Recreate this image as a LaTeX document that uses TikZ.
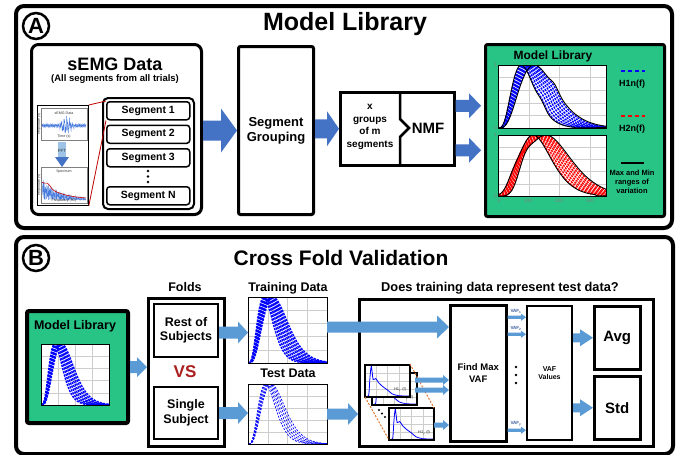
\documentclass[tikz,border=0pt]{standalone}
\usepackage{fontspec}
\setmainfont{Liberation Sans}
\usetikzlibrary{calc}
\definecolor{arrA}{RGB}{68,114,196}
\definecolor{arrB}{RGB}{91,155,213}
\definecolor{libgreen}{RGB}{40,196,134}
\definecolor{vsred}{RGB}{170,30,30}
\definecolor{orng}{RGB}{225,120,50}
\definecolor{gridc}{RGB}{205,205,205}
\newcommand\fs[2]{\fontsize{#1}{#2}\selectfont}
% horizontal block arrow: start, end, body half, head half, head length, colour
\newcommand\fatarrow[6]{\fill[#6] let \p1=#1, \p2=#2 in
  (\x1,{\y1+#3}) -- ({\x2-#5},{\y1+#3}) -- ({\x2-#5},{\y1+#4}) -- (\x2,\y1)
  -- ({\x2-#5},{\y1-#4}) -- ({\x2-#5},{\y1-#3}) -- (\x1,{\y1-#3}) -- cycle;}
\newcommand\pbg[2]{\fill[white] (0,0) rectangle (1,1);
  \draw[gridc, line width=0.5pt, xstep=#1, ystep=#2] (0,0) grid (1,1);}
\newcommand\pfr[1]{\draw[line width=#1] (0,0) rectangle (1,1);}
\newcommand\bandc[3]{\foreach \pp in {#1} {\draw[#3, domain=0.01:1, samples=60] plot (\x,{#2});}}
\tikzset{
  panel/.style={draw, line width=4pt, rounded corners=8pt, inner sep=0pt, anchor=north west},
  box/.style={draw, inner sep=0pt, anchor=north west, align=center, font=\bfseries},
  lbl/.style={inner sep=0pt, align=center, font=\bfseries},
  plotn/.style={inner sep=0pt, outer sep=0pt, anchor=north west},
  tick/.style={inner sep=1pt, text=gray, font=\fs{5}{5}},
  tiny/.style={inner sep=0pt, font=\fs{3.6}{4}, text=black!80},
  seg/.style={box, line width=1.5pt, rounded corners=3pt, minimum width=83pt, minimum height=18pt, font=\bfseries\fs{10.5}{10.5}},
  bdash/.style={blue, line width=1.4pt, dash pattern=on 2.2pt off 1.1pt},
  rdash/.style={red, line width=1.4pt, dash pattern=on 2.2pt off 1.1pt},
  tdash/.style={blue, line width=0.7pt, dash pattern=on 2pt off 1.4pt},
}
\begin{document}
\begin{tikzpicture}[x=1pt,y=-1pt]
\useasboundingbox (0,0) rectangle (680,455);
\fill[white] (0,0) rectangle (680,455);

% ================= Panel A =================
\node[panel, minimum width=656pt, minimum height=222pt] (panA) at (14,4) {};
\node[circle, draw, line width=2.5pt, minimum size=26pt, inner sep=0pt, font=\bfseries\fs{22}{22}] (circA) at (36,26) {A};
\node[lbl, font=\bfseries\fs{25}{25}] (titA) at (345,24) {Model Library};

% sEMG data box
\node[box, line width=3pt, rounded corners=7pt, minimum width=170pt, minimum height=170pt] (semg) at (30,43) {};
\node[lbl, font=\bfseries\fs{18}{18}] (semgT) at (115,64) {sEMG Data};
\node[lbl, font=\bfseries\fs{9.5}{9.5}] (semgS) at (115,79) {(All segments from all trials)};

% mini figure
\node[draw, line width=0.8pt, fill=white, anchor=north west, minimum width=51pt, minimum height=100pt, inner sep=0pt] (fig) at (37,105) {};
\node[plotn, draw=gray, line width=0.4pt, minimum width=46pt, minimum height=32pt] (sig) at (41,108) {};
\node[plotn, draw=gray, line width=0.4pt, minimum width=46pt, minimum height=36pt] (spec) at (41,167) {};
\begin{scope}[shift={(sig.south west)}, x=46pt, y=32pt]
  \clip (0,0) rectangle (1,1);
  \draw[arrB!80!blue, line width=0.4pt, domain=0.02:0.98, samples=160] plot (\x,{0.45+0.05*sin(13000*\x)+0.33*sin(15000*\x)*cos(9100*\x)*exp(-((\x-0.55)/0.13)^2)});
\end{scope}
\node[tiny] (sigT) at (64,113) {sEMG Data};
\node[tiny] (sigX) at (64,136.5) {Time (s)};
\node[tiny, rotate=90] (sigY) at (39,124) {Amplitude (V)};
\fill[arrB!60] (58,142) rectangle (66,157);
\fill[arrA] (55,157) -- (69,157) -- (62,167) -- cycle;
\node[tiny, font=\fs{4.5}{5}] (fft) at (62,151) {FFT};
\begin{scope}[shift={(spec.south west)}, x=46pt, y=36pt]
  \clip (0,0) rectangle (1,1);
  \draw[arrB!80!blue, line width=0.4pt, domain=0.02:0.98, samples=140] plot (\x,{0.08+0.75*exp(-2.6*\x)*abs(sin(12000*\x)*cos(7000*\x))});
  \draw[red!80!black, line width=0.6pt, domain=0.02:0.98, samples=40] plot (\x,{0.1+0.5*exp(-2.6*\x)+0.1*exp(-((\x-0.15)/0.08)^2)});
\end{scope}
\node[tiny] (specT) at (64,172) {Spectrum};
\node[tiny] (specX) at (64,201) {Frequency (Hz)};
\node[tiny, rotate=90] (specY) at (39,185) {Amplitude (V)};

% segments
\node[box, line width=2pt, rounded corners=5pt, minimum width=91pt, minimum height=111pt] (segc) at (102,97) {};
\node[seg] (s1) at (106,101) {Segment 1};
\node[seg] (s2) at (106,124.5) {Segment 2};
\node[seg] (s3) at (106,148) {Segment 3};
\node[seg] (sN) at (106,186) {Segment N};
\foreach \yy in {171,176.5,182} \fill (148,\yy) circle (1.4pt);
\draw[red!75!black, line width=0.8pt] (fig.north east) -- (s1.north west);
\draw[red!75!black, line width=0.8pt] (fig.south east) -- (s1.south west);

% segment grouping
\node[box, line width=3pt, rounded corners=2pt, minimum width=75pt, minimum height=168pt, font=\bfseries\fs{13}{15}] (seggrp) at (237,45) {Segment\\Grouping};

% NMF
\node[box, line width=2.5pt, minimum width=114pt, minimum height=73pt] (nmf) at (339,91) {};
\draw[line width=2.5pt] (400,91) -- (400,119) -- (409,128) -- (400,137) -- (400,164);
\node[lbl, font=\bfseries\fs{10}{12.7}] (xg) at (370,127) {x\\groups\\of m\\segments};
\node[lbl, font=\bfseries\fs{15}{15}] (nmfT) at (428,128) {NMF};

% green library A
\node[box, fill=libgreen, line width=3pt, rounded corners=2pt, minimum width=179pt, minimum height=172pt] (libA) at (484,43) {};
\node[lbl, font=\bfseries\fs{12}{12}] (libAT) at (553,56) {Model Library};
\node[plotn, minimum width=108pt, minimum height=63pt] (pA1) at (498,65) {};
\node[plotn, minimum width=108pt, minimum height=61pt] (pA2) at (498,135) {};
\begin{scope}[shift={(pA1.south west)}, x=108pt, y=63pt]
  \pbg{0.2857}{0.2}
  \begin{scope}\clip (0,0) rectangle (1,1);
  \bandc{0.22,0.235,...,0.33}{(\x/\pp)^4*exp(4*(1-\x/\pp))+0.07*exp(-((\x-\pp-0.19)/0.05)^2)}{bdash}
  \bandc{0.215,0.335}{(\x/\pp)^4*exp(4*(1-\x/\pp))+0.07*exp(-((\x-\pp-0.19)/0.05)^2)}{black, line width=0.9pt}
  \end{scope}
  \pfr{1pt}
\end{scope}
\begin{scope}[shift={(pA2.south west)}, x=108pt, y=61pt]
  \pbg{0.2857}{0.2}
  \begin{scope}\clip (0,0) rectangle (1,1);
  \bandc{0.33,0.345,...,0.44}{(\x/\pp)^5*exp(5*(1-\x/\pp))+0.2*exp(-((\x-\pp+0.2)/0.08)^2)}{rdash}
  \bandc{0.325,0.445}{(\x/\pp)^5*exp(5*(1-\x/\pp))+0.2*exp(-((\x-\pp+0.2)/0.08)^2)}{black, line width=0.9pt}
  \end{scope}
  \pfr{1pt}
\end{scope}
\node[tick, anchor=east] (t1) at (pA1.north west) {1};
\node[tick, anchor=east] (t2) at (pA1.south west) {0};
\node[tick, anchor=east] (t3) at (pA2.north west) {1};
\node[tick, anchor=east] (t4) at (pA2.south west) {0};
\node[tick] (t5) at (499,201) {0};
\node[tick] (t6) at (528,201) {100};
\node[tick] (t7) at (559,201) {200};
\node[tick] (t8) at (590,201) {300};
\draw[blue, line width=2.2pt, dash pattern=on 4pt off 3pt] (621,71) -- (645,71);
\node[lbl, font=\bfseries\fs{9}{9}] (lg1) at (632,84) {H1n(f)};
\draw[red, line width=2.2pt, dash pattern=on 4pt off 3pt] (621,116) -- (645,116);
\node[lbl, font=\bfseries\fs{9}{9}] (lg2) at (632,129) {H2n(f)};
\draw[black, line width=2.5pt] (621,163) -- (644,163);
\node[lbl, font=\bfseries\fs{7.5}{9}] (lg3) at (632,182) {Max and Min\\ranges of\\variation};

% arrows A
\fatarrow{(semg.east |- seggrp.east)}{(seggrp.west)}{10pt}{22pt}{16pt}{arrA}
\fatarrow{(seggrp.east |- nmf.west)}{(nmf.west)}{9.5pt}{17.5pt}{12pt}{arrA}
\fatarrow{([yshift=23pt]nmf.east)}{([xshift=-3pt]libA.west)}{6pt}{12.5pt}{12pt}{arrA}
\fatarrow{([yshift=-21.5pt]nmf.east)}{([xshift=-3pt]libA.west)}{6pt}{12.5pt}{12pt}{arrA}

% ================= Panel B =================
\node[panel, minimum width=657pt, minimum height=217pt] (panB) at (14,235) {};
\node[circle, draw, line width=2.5pt, minimum size=26pt, inner sep=0pt, font=\bfseries\fs{22}{22}] (circB) at (36,258) {B};
\node[lbl, font=\bfseries\fs{21}{21}] (titB) at (341,258) {Cross Fold Validation};

% green library B
\node[box, fill=libgreen, line width=4pt, rounded corners=2pt, minimum width=101pt, minimum height=112pt] (libB) at (25,309) {};
\node[lbl, font=\bfseries\fs{12.5}{12.5}] (libBT) at (75,326) {Model Library};
\node[plotn, minimum width=68pt, minimum height=61pt] (pB) at (41,344) {};
\begin{scope}[shift={(pB.south west)}, x=68pt, y=61pt]
  \pbg{0.25}{0.2}
  \begin{scope}\clip (0,0) rectangle (1,1);
  \bandc{0.2,0.215,...,0.31}{(\x/\pp)^4*exp(4*(1-\x/\pp))}{bdash}
  \end{scope}
  \pfr{1pt}
\end{scope}

% folds
\node[box, line width=2.5pt, minimum width=76pt, minimum height=148pt] (folds) at (147,297) {};
\node[lbl, font=\bfseries\fs{12.5}{12.5}] (foldsT) at (185,287) {Folds};
\node[box, line width=2pt, minimum width=64pt, minimum height=53pt, font=\bfseries\fs{12.5}{14.5}] (rest) at (153,303) {Rest of\\Subjects};
\node[lbl, text=vsred, font=\bfseries\fs{17}{17}] (vs) at (185,372) {VS};
\node[box, line width=2pt, minimum width=64pt, minimum height=52pt, font=\bfseries\fs{12.5}{14.5}] (single) at (153,386) {Single\\Subject};

% training / test
\node[lbl, font=\bfseries\fs{12.5}{12.5}] (trainT) at (288,288) {Training Data};
\node[plotn, minimum width=79pt, minimum height=66pt] (train) at (248,297) {};
\begin{scope}[shift={(train.south west)}, x=79pt, y=66pt]
  \pbg{0.25}{0.2}
  \begin{scope}\clip (0,0) rectangle (1,1);
  \bandc{0.2,0.213,...,0.32}{(\x/\pp)^4*exp(4*(1-\x/\pp))}{bdash}
  \end{scope}
  \pfr{1pt}
\end{scope}
\node[lbl, font=\bfseries\fs{12.5}{12.5}] (testT) at (288,373) {Test Data};
\node[plotn, minimum width=79pt, minimum height=60pt] (test) at (248,384) {};
\begin{scope}[shift={(test.south west)}, x=79pt, y=60pt]
  \pbg{0.25}{0.2}
  \begin{scope}\clip (0,0) rectangle (1,1);
  \bandc{0.22,0.235,...,0.3}{(\x/\pp)^4*exp(4*(1-\x/\pp))}{tdash}
  \end{scope}
  \pfr{1pt}
\end{scope}

% validation container
\node[lbl, font=\bfseries\fs{12.8}{12.8}] (qT) at (500,288) {Does training data represent test data?};
\node[box, line width=3pt, minimum width=294pt, minimum height=147pt] (cont) at (358,298) {};
\node[box, line width=2.5pt, minimum width=56pt, minimum height=136pt, font=\bfseries\fs{9.5}{12}] (findmax) at (449,304) {Find Max\\VAF};
\node[box, line width=2pt, minimum width=45pt, minimum height=134pt, font=\bfseries\fs{7}{8.5}] (vafv) at (526,305) {VAF\\Values};
\node[box, line width=2.5pt, minimum width=46pt, minimum height=63pt, font=\bfseries\fs{15}{15}] (avg) at (593,305) {Avg};
\node[box, line width=2.5pt, minimum width=46pt, minimum height=63pt, font=\bfseries\fs{15}{15}] (std) at (593,375) {Std};

% small H1 plots
\node[plotn, minimum width=43pt, minimum height=30pt] (h1b) at (372,375) {};
\node[plotn, minimum width=45pt, minimum height=33pt] (h1a) at (365,364) {};
\node[plotn, minimum width=45pt, minimum height=32pt] (h1c) at (389,408) {};
\foreach \nm/\sub in {h1b/2, h1a/1, h1c/y} {
  \begin{scope}[shift={(\nm.south west)}, x=45pt, y=32pt]
    \pbg{0.25}{0.25}
    \draw[blue, line width=0.8pt] plot[smooth, tension=0.4] coordinates {(0,0.03) (0.08,0.04) (0.11,0.6) (0.14,0.97) (0.18,0.55) (0.24,0.58) (0.3,0.45) (0.4,0.32) (0.5,0.22) (0.6,0.1) (0.75,0.04) (1,0.03)};
    \node[inner sep=0pt, font=\fs{4}{4}, text=black!80] at (0.78,0.22) {H1\textsubscript{\sub} (f)};
    \pfr{1.2pt}
  \end{scope}
}
\draw[orng, line width=1pt, dash pattern=on 2pt off 1.5pt] (h1a.south west) -- (h1c.south west);
\draw[orng, line width=1pt, dash pattern=on 2pt off 1.5pt] (h1a.north east) -- (h1c.north east);
\foreach \dx/\dy in {379/410, 382/413.5, 385/417} \fill (\dx,\dy) circle (1.1pt);

% VAF arrows and labels
\fatarrow{([yshift=56pt]findmax.east)}{(vafv.west)}{1.6pt}{3.6pt}{5pt}{arrB}
\fatarrow{([yshift=39pt]findmax.east)}{(vafv.west)}{1.6pt}{3.6pt}{5pt}{arrB}
\fatarrow{([yshift=-57pt]findmax.east)}{(vafv.west)}{1.6pt}{3.6pt}{5pt}{arrB}
\node[inner sep=0pt, text=arrA!80!black, font=\bfseries\fs{4.5}{5}] (v1) at (516,311) {VAF\textsubscript{1}};
\node[inner sep=0pt, text=arrA!80!black, font=\bfseries\fs{4.5}{5}] (v2) at (516,328) {VAF\textsubscript{2}};
\node[inner sep=0pt, text=arrA!80!black, font=\bfseries\fs{4.5}{5}] (vy) at (516,424) {VAF\textsubscript{y}};
\foreach \yy in {367,375,383} \fill (516,\yy) circle (1.3pt);

% arrows B
\fatarrow{(libB.east)}{(folds.west)}{6pt}{10pt}{10pt}{arrB}
\fatarrow{([yshift=-2pt]rest.east)}{(train.west)}{6pt}{11pt}{10pt}{arrB}
\fatarrow{(single.east)}{(test.west)}{6pt}{11pt}{10pt}{arrB}
\fatarrow{([yshift=3pt]train.east)}{(findmax.west)}{5.5pt}{11.5pt}{12pt}{arrB}
\fatarrow{(test.east)}{(cont.west)}{5.5pt}{11pt}{10pt}{arrB}
\fatarrow{([yshift=10pt]h1b.east)}{(findmax.west)}{2.5pt}{5pt}{6pt}{arrB}
\fatarrow{(h1b.east)}{(findmax.west)}{2.5pt}{5pt}{6pt}{arrB}
\fatarrow{([yshift=-1pt]h1c.east)}{(findmax.west)}{2.5pt}{5pt}{6pt}{arrB}
\fatarrow{(vafv.east |- avg.east)}{(avg.west)}{4.5pt}{8.5pt}{13pt}{arrB}
\fatarrow{(vafv.east |- std.east)}{(std.west)}{4.5pt}{8.5pt}{13pt}{arrB}
\end{tikzpicture}
\end{document}
